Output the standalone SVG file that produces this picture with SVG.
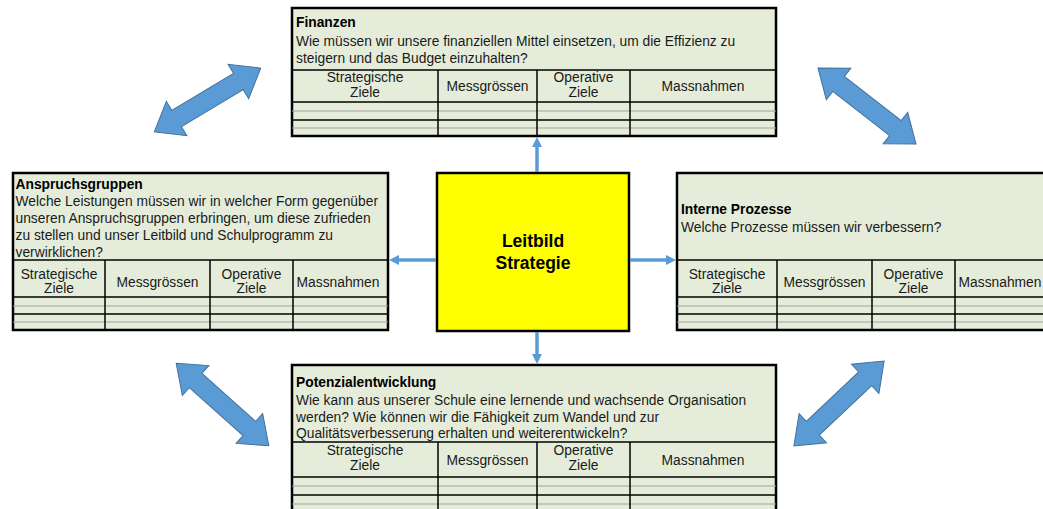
<svg xmlns="http://www.w3.org/2000/svg" width="1043" height="509" viewBox="0 0 1043 509">
  <style>
    .box { fill: #E5EDDA; stroke: #000; stroke-width: 2.5; }
    .rule { stroke: #000; stroke-width: 1.5; }
    .thin { stroke: #A0A0A0; stroke-width: 1; }
    .txt { font-family: "Liberation Sans", Arial, sans-serif; font-size: 13.8px; fill: #1a1a1a; }
    .ttl { font-family: "Liberation Sans", Arial, sans-serif; font-size: 13.8px; font-weight: bold; fill: #000; }
    .hd { font-family: "Liberation Sans", Arial, sans-serif; font-size: 13.8px; fill: #1a1a1a; text-anchor: middle; }
    .core { fill: #FFFF00; stroke: #000; stroke-width: 2.5; }
    .coretxt { font-family: "Liberation Sans", Arial, sans-serif; font-size: 17.5px; font-weight: bold; fill: #000; text-anchor: middle; }
    .link { stroke: #5B9BD5; stroke-width: 3.5; fill: none; marker-end: url(#tip); }
    .block { fill: #5B9BD5; stroke: #41719C; stroke-width: 1; }
  </style>
  <defs>
    <marker id="tip" viewBox="0 0 10 10" markerUnits="userSpaceOnUse" markerWidth="10" markerHeight="10" refX="2" refY="5" orient="auto">
      <path d="M0,0 L10,5 L0,10 z" fill="#5B9BD5"/>
    </marker>
    <!-- double-headed block arrow, centred on the origin, pointing along x -->
    <path id="dbl" d="M-62,0 L-36,-20 L-36,-9.5 L36,-9.5 L36,-20 L62,0 L36,20 L36,9.5 L-36,9.5 L-36,20 Z"/>
  </defs>

  <rect width="1043" height="509" fill="#fff"/>

  <!-- diagonal block arrows between the perspectives -->
  <g id="block-arrows">
    <use href="#dbl" class="block" transform="translate(207.5,100) rotate(-30.9)"/>
    <use href="#dbl" class="block" transform="translate(867,106) rotate(37.8)"/>
    <use href="#dbl" class="block" transform="translate(222.5,404.5) rotate(41.7)"/>
    <use href="#dbl" class="block" transform="translate(839,403.5) rotate(-43.3)"/>
  </g>

  <!-- Finanzen -->
  <g id="finanzen">
    <rect class="box" x="292" y="8" width="484" height="128"/>
    <text class="ttl" x="296" y="27">Finanzen</text>
    <text class="txt" x="296" y="45.5">Wie müssen wir unsere finanziellen Mittel einsetzen, um die Effizienz zu</text>
    <text class="txt" x="296" y="63">steigern und das Budget einzuhalten?</text>
    <line class="rule" x1="292" y1="70" x2="776" y2="70"/>
    <line class="rule" x1="292" y1="102" x2="776" y2="102"/>
    <line class="thin" x1="292" y1="111" x2="776" y2="111"/>
    <line class="rule" x1="292" y1="120" x2="776" y2="120"/>
    <line class="thin" x1="292" y1="128" x2="776" y2="128"/>
    <line class="rule" x1="438" y1="70" x2="438" y2="136"/>
    <line class="rule" x1="537" y1="70" x2="537" y2="136"/>
    <line class="rule" x1="630" y1="70" x2="630" y2="136"/>
    <text class="hd" x="365" y="82">Strategische</text>
    <text class="hd" x="365" y="97">Ziele</text>
    <text class="hd" x="487.5" y="91">Messgrössen</text>
    <text class="hd" x="583.5" y="82">Operative</text>
    <text class="hd" x="583.5" y="97">Ziele</text>
    <text class="hd" x="703" y="91">Massnahmen</text>
  </g>

  <!-- Anspruchsgruppen -->
  <g id="anspruchsgruppen">
    <rect class="box" x="13" y="173" width="375" height="157"/>
    <text class="ttl" x="15.5" y="189">Anspruchsgruppen</text>
    <text class="txt" x="15.5" y="206">Welche Leistungen müssen wir in welcher Form gegenüber</text>
    <text class="txt" x="15.5" y="223">unseren Anspruchsgruppen erbringen, um diese zufrieden</text>
    <text class="txt" x="15.5" y="240">zu stellen und unser Leitbild und Schulprogramm zu</text>
    <text class="txt" x="15.5" y="257">verwirklichen?</text>
    <line class="rule" x1="13" y1="260" x2="388" y2="260"/>
    <line class="rule" x1="13" y1="297" x2="388" y2="297"/>
    <line class="thin" x1="13" y1="306" x2="388" y2="306"/>
    <line class="rule" x1="13" y1="314" x2="388" y2="314"/>
    <line class="thin" x1="13" y1="322" x2="388" y2="322"/>
    <line class="rule" x1="105" y1="260" x2="105" y2="330"/>
    <line class="rule" x1="210" y1="260" x2="210" y2="330"/>
    <line class="rule" x1="293" y1="260" x2="293" y2="330"/>
    <text class="hd" x="59" y="279">Strategische</text>
    <text class="hd" x="59" y="293">Ziele</text>
    <text class="hd" x="157.5" y="287">Messgrössen</text>
    <text class="hd" x="251.5" y="279">Operative</text>
    <text class="hd" x="251.5" y="293">Ziele</text>
    <text class="hd" x="338" y="287">Massnahmen</text>
  </g>

  <!-- Interne Prozesse -->
  <g id="interne-prozesse">
    <rect class="box" x="677" y="173" width="390" height="157"/>
    <text class="ttl" x="681" y="214">Interne Prozesse</text>
    <text class="txt" x="681" y="232">Welche Prozesse müssen wir verbessern?</text>
    <line class="rule" x1="677" y1="260" x2="1067" y2="260"/>
    <line class="rule" x1="677" y1="297" x2="1067" y2="297"/>
    <line class="thin" x1="677" y1="306" x2="1067" y2="306"/>
    <line class="rule" x1="677" y1="314" x2="1067" y2="314"/>
    <line class="thin" x1="677" y1="322" x2="1067" y2="322"/>
    <line class="rule" x1="777" y1="260" x2="777" y2="330"/>
    <line class="rule" x1="872" y1="260" x2="872" y2="330"/>
    <line class="rule" x1="955" y1="260" x2="955" y2="330"/>
    <text class="hd" x="727" y="279">Strategische</text>
    <text class="hd" x="727" y="293">Ziele</text>
    <text class="hd" x="824.5" y="287">Messgrössen</text>
    <text class="hd" x="913.5" y="279">Operative</text>
    <text class="hd" x="913.5" y="293">Ziele</text>
    <text class="hd" x="1000" y="287">Massnahmen</text>
  </g>

  <!-- Potenzialentwicklung -->
  <g id="potenzialentwicklung">
    <rect class="box" x="292" y="365" width="484" height="170"/>
    <text class="ttl" x="296" y="387">Potenzialentwicklung</text>
    <text class="txt" x="296" y="405">Wie kann aus unserer Schule eine lernende und wachsende Organisation</text>
    <text class="txt" x="296" y="422">werden? Wie können wir die Fähigkeit zum Wandel und zur</text>
    <text class="txt" x="296" y="438">Qualitätsverbesserung erhalten und weiterentwickeln?</text>
    <line class="rule" x1="292" y1="442" x2="776" y2="442"/>
    <line class="rule" x1="292" y1="477" x2="776" y2="477"/>
    <line class="thin" x1="292" y1="486" x2="776" y2="486"/>
    <line class="rule" x1="292" y1="495" x2="776" y2="495"/>
    <line class="thin" x1="292" y1="504" x2="776" y2="504"/>
    <line class="rule" x1="438" y1="442" x2="438" y2="535"/>
    <line class="rule" x1="537" y1="442" x2="537" y2="535"/>
    <line class="rule" x1="630" y1="442" x2="630" y2="535"/>
    <text class="hd" x="365" y="455">Strategische</text>
    <text class="hd" x="365" y="470">Ziele</text>
    <text class="hd" x="487.5" y="465">Messgrössen</text>
    <text class="hd" x="583.5" y="455">Operative</text>
    <text class="hd" x="583.5" y="470">Ziele</text>
    <text class="hd" x="703" y="465">Massnahmen</text>
  </g>

  <!-- Leitbild / Strategie -->
  <g id="leitbild">
    <rect class="core" x="437" y="173" width="192" height="158"/>
    <text class="coretxt" x="533" y="247">Leitbild</text>
    <text class="coretxt" x="533" y="269">Strategie</text>
  </g>

  <!-- connectors from the core to each perspective -->
  <g id="connectors">
    <line class="link" x1="537" y1="172" x2="537" y2="145"/>
    <line class="link" x1="537" y1="332" x2="537" y2="356"/>
    <line class="link" x1="436" y1="260" x2="397" y2="260"/>
    <line class="link" x1="630" y1="260" x2="668" y2="260"/>
  </g>
</svg>
